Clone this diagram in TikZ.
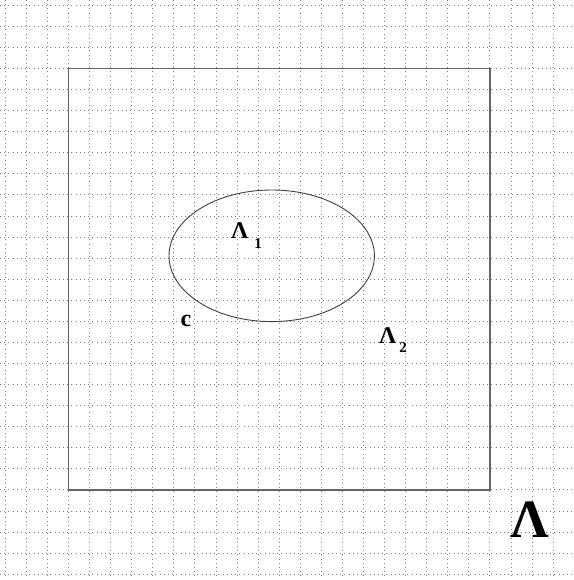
\documentclass[tikz,border=0pt]{standalone}
\usepackage{fontspec}
\setmainfont{Liberation Serif}
\begin{document}
\begin{tikzpicture}[x=1pt,y=-1pt,
  gridline/.style={draw=black!50, line width=0.9pt, dash pattern=on 0.9pt off 3.3pt},
  frame/.style={draw=black!60, line width=1.8pt},
  region/.style={draw=black!75, line width=0.9pt},
  lab/.style={inner sep=0pt, font=\bfseries\fontsize{24}{24}\selectfont}]
\useasboundingbox (0,0) rectangle (573,580);
\fill[white] (0,0) rectangle (573,580);
\foreach \k in {0,...,26} {
  \draw[gridline] ({5.3+21.07*\k},0) -- ({5.3+21.07*\k},580);
}
\foreach \k in {0,...,27} {
  \draw[gridline] (0,{5.3+21.07*\k}) -- (573,{5.3+21.07*\k});
}
\draw[frame] (68.5,68.5) rectangle (490,490);
\draw[region] (271.7,255.8) ellipse [x radius=102.7, y radius=65.8];
\node[lab, anchor=base west] (l1) at (231,238.5) {Λ\hspace{6pt}\raisebox{-10pt}{\fontsize{15}{15}\selectfont 1}};
\node[lab, anchor=base west] (l2) at (379,343.5) {Λ\hspace{3pt}\raisebox{-9pt}{\fontsize{15}{15}\selectfont 2}};
\node[lab, anchor=base west, font=\bfseries\fontsize{24}{24}\selectfont] (c) at (180.5,326) {c};
\node[lab, anchor=base west, font=\bfseries\fontsize{54}{54}\selectfont] (lam) at (510,537.5) {Λ};
\end{tikzpicture}
\end{document}
